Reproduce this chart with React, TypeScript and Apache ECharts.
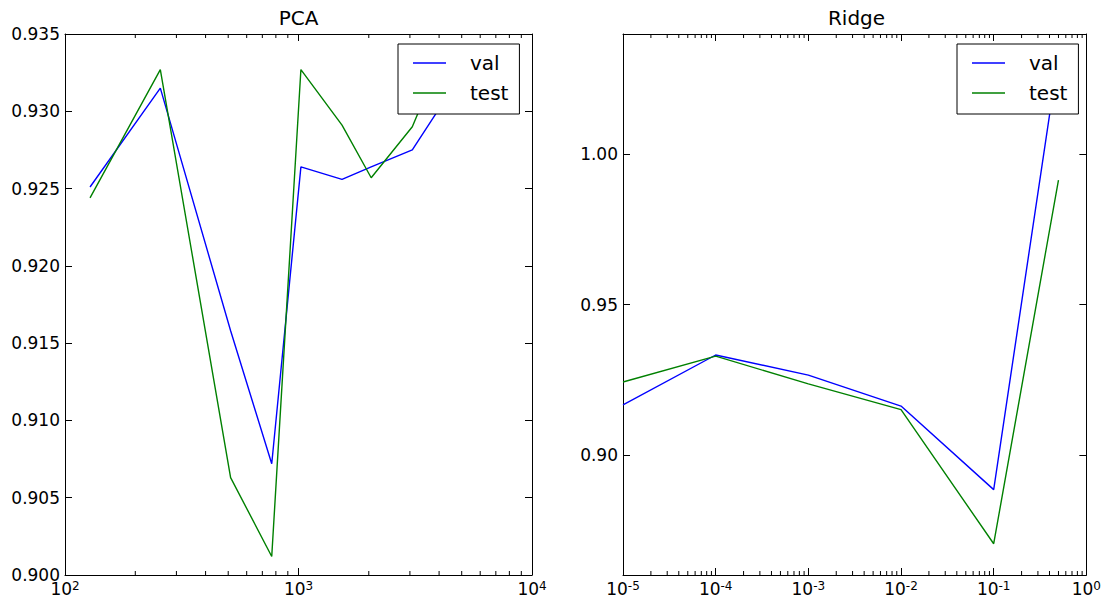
import React, { useEffect, useRef } from "react";
import * as echarts from "echarts";

// ---- data ----
const pcaX = [128, 256, 512, 768, 1024, 1536, 2048, 3072, 4096];
const pcaVal = [0.9251, 0.9315, 0.9158, 0.9072, 0.9264, 0.9256, 0.9264, 0.9275, 0.9304];
const pcaTest = [0.9244, 0.9327, 0.9063, 0.9012, 0.9327, 0.9291, 0.9257, 0.929, 0.9335];

const ridgeX = [1e-5, 1e-4, 1e-3, 1e-2, 1e-1, 0.5];
const ridgeVal = [0.9166, 0.9332, 0.9265, 0.9162, 0.8884, 1.033];
const ridgeTest = [0.9242, 0.9328, 0.9236, 0.915, 0.8704, 0.9914];

const pcaYTicks = [0.9, 0.905, 0.91, 0.915, 0.92, 0.925, 0.93, 0.935];
const ridgeYTicks = [0.9, 0.95, 1.0];

const titles = ["PCA", "Ridge"];
const seriesNames = ["val", "test"];

function minorTicks(lo: number, hi: number): number[] {
  const out: number[] = [];
  for (let e = lo; e < hi; e++) {
    for (let k = 2; k <= 9; k++) out.push(k * Math.pow(10, e));
  }
  return out;
}

const FONT = "DejaVu Sans";
const BLUE = "#0000ff";
const GREEN = "#008000";

export default function App() {
  const ref = useRef<HTMLDivElement>(null);
  useEffect(() => {
    if (!ref.current) return;
    const chart = echarts.init(ref.current, null, { renderer: "svg" });

    const grids = [
      { left: 65, top: 34, width: 467, height: 541 },
      { left: 623, top: 34, width: 467, height: 541 },
    ];

    const logLabel = {
      margin: 5,
      formatter: (v: number) => {
        const e = Math.round(Math.log10(v));
        return `{b|10}{s|${e}}`;
      },
      rich: {
        b: { fontSize: 17, fontFamily: FONT, color: "#000", lineHeight: 17, verticalAlign: "bottom" },
        s: { fontSize: 12, fontFamily: FONT, color: "#000", lineHeight: 12, verticalAlign: "top" },
      },
    };

    const axisLine = { show: true, lineStyle: { color: "#000", width: 1 } };
    const tick = { show: true, inside: true, length: 7, lineStyle: { color: "#000", width: 1 } };

    const mkX = (grid: number, min: number, max: number, top: boolean) => ({
      type: "log",
      logBase: 10,
      gridIndex: grid,
      min,
      max,
      position: top ? "top" : "bottom",
      axisLine,
      axisTick: tick,
      axisLabel: top ? { show: false } : logLabel,
      splitLine: { show: false },
      minorTick: { show: false },
    });

    const mkY = (grid: number, min: number, max: number, ticks: number[], digits: number, right: boolean) => ({
      type: "value",
      gridIndex: grid,
      min,
      max,
      position: right ? "right" : "left",
      axisLine,
      axisTick: { ...tick, customValues: ticks },
      axisLabel: right
        ? { show: false }
        : {
            customValues: ticks,
            margin: 5,
            fontSize: 17,
            fontFamily: FONT,
            color: "#000",
            formatter: (v: number) => v.toFixed(digits),
          },
      splitLine: { show: false },
    });

    const minorSeries = (xi: number, yi: number, vals: number[], yv: number) => ({
      type: "custom",
      xAxisIndex: xi,
      yAxisIndex: yi,
      silent: true,
      z: 3,
      data: vals.map((v) => [v, yv]),
      renderItem: (params: any, api: any) => {
        const cs = params.coordSys;
        const x = api.coord([api.value(0), yv])[0];
        const st = { stroke: "#000", lineWidth: 1 };
        return {
          type: "group",
          children: [
            { type: "line", shape: { x1: x, y1: cs.y + cs.height, x2: x, y2: cs.y + cs.height - 4 }, style: st },
            { type: "line", shape: { x1: x, y1: cs.y, x2: x, y2: cs.y + 4 }, style: st },
          ],
        };
      },
    });

    const lineSeries = (name: string, xs: number[], ys: number[], color: string, xi: number, yi: number) => ({
      type: "line",
      name,
      xAxisIndex: xi,
      yAxisIndex: yi,
      data: xs.map((x, i) => [x, ys[i]]),
      showSymbol: false,
      symbol: "none",
      clip: true,
      lineStyle: { color, width: 1.4 },
      itemStyle: { color },
      z: 2,
    });

    const mkLegend = (left: number) => ({
      left,
      top: 44,
      orient: "vertical",
      data: seriesNames,
      icon: "rect",
      itemWidth: 33,
      itemHeight: 1.5,
      itemGap: 6,
      padding: [7, 11, 9, 15],
      backgroundColor: "#fff",
      borderColor: "#000",
      borderWidth: 1,
      borderRadius: 0,
      selectedMode: false,
      textStyle: { fontSize: 20, fontFamily: FONT, color: "#000", lineHeight: 24, padding: [0, 0, 0, 19] },
      z: 10,
    });

    chart.setOption({
      animation: false,
      textStyle: { fontFamily: FONT },
      grid: grids,
      xAxis: [
        mkX(0, 100, 10000, false),
        mkX(0, 100, 10000, true),
        mkX(1, 1e-5, 1, false),
        mkX(1, 1e-5, 1, true),
      ],
      yAxis: [
        mkY(0, 0.9, 0.935, pcaYTicks, 3, false),
        mkY(0, 0.9, 0.935, pcaYTicks, 3, true),
        mkY(1, 0.86, 1.04, ridgeYTicks, 2, false),
        mkY(1, 0.86, 1.04, ridgeYTicks, 2, true),
      ],
      legend: [mkLegend(398), mkLegend(957)],
      graphic: [
        {
          type: "text",
          x: 65 + 467 / 2,
          y: 18,
          style: { text: titles[0], fontSize: 20, fontFamily: FONT, fill: "#000", textAlign: "center", textVerticalAlign: "middle" },
        },
        {
          type: "text",
          x: 623 + 467 / 2,
          y: 18,
          style: { text: titles[1], fontSize: 20, fontFamily: FONT, fill: "#000", textAlign: "center", textVerticalAlign: "middle" },
        },
      ],
      series: [
        lineSeries(seriesNames[0], pcaX, pcaVal, BLUE, 0, 0),
        lineSeries(seriesNames[1], pcaX, pcaTest, GREEN, 0, 0),
        lineSeries(seriesNames[0], ridgeX, ridgeVal, BLUE, 2, 2),
        lineSeries(seriesNames[1], ridgeX, ridgeTest, GREEN, 2, 2),
        minorSeries(0, 0, minorTicks(2, 4), 0.91),
        minorSeries(2, 2, minorTicks(-5, 0), 0.9),
      ],
    });

    return () => chart.dispose();
  }, []);

  return (
    <div
      ref={ref}
      style={{ position: "fixed", left: 0, top: 0, width: 1104, height: 605, background: "#fff" }}
    />
  );
}
